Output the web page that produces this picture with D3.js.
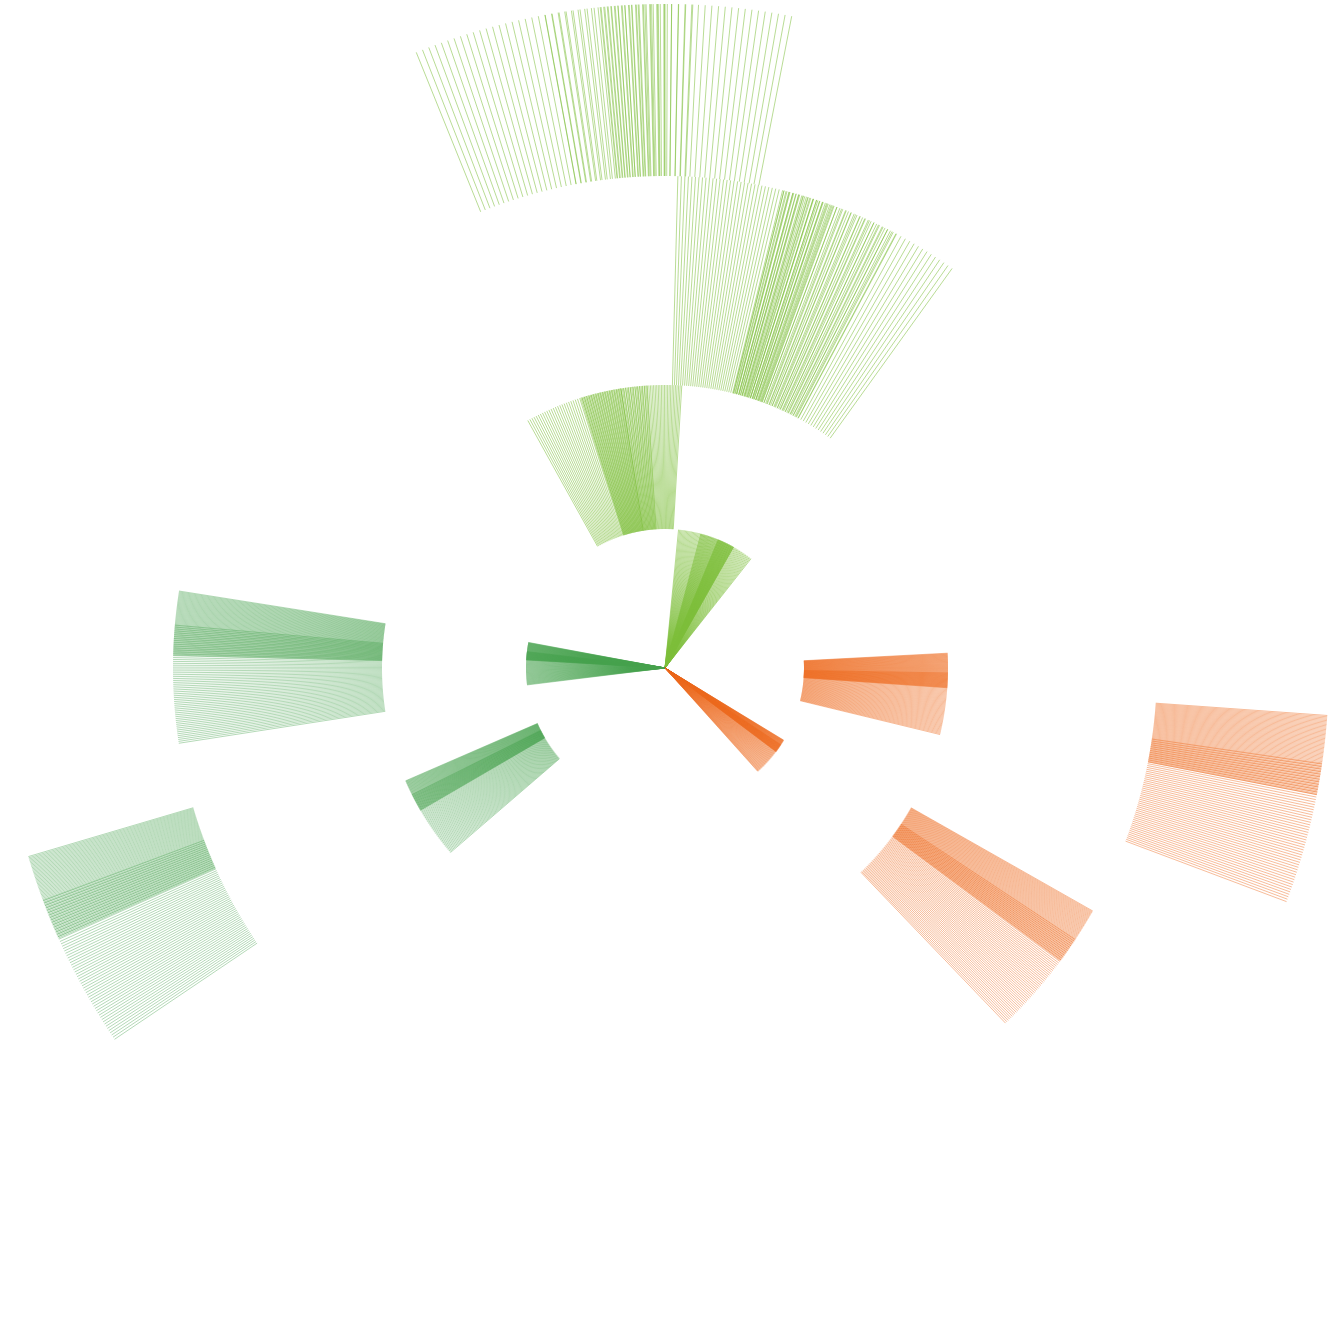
<!DOCTYPE html>
<html>
<head>
<meta charset="utf-8">
<script src="https://d3js.org/d3.v7.min.js"></script>
<style>
  html, body { margin: 0; padding: 0; background: #fff; }
</style>
</head>
<body>
<div id="radial"></div>
<script>
// groups of the chart, each one drawn in its own colour
const groups = ["lime", "green", "orange"]
const groupColors = ["#7cbd3a", "#46a14d", "#ee6b1f"]

// ring levels, 0 is the inner wedge
const levels = [0, 1, 2, 3]

// hatched sets: level, start angle, end angle (degrees), number of lines
const limeSets = [
    [0, 5.6, 29.5, 50], [0, 15, 38.2, 55], [0, 22.5, 29.5, 30],
    [1, -29, -3.7, 54], [1, -17.3, -9, 35], [1, -9, 3.4, 40],
    [2, 1.5, 20, 46], [2, 14, 35.7, 38], [2, 14, 28, 40],
    [3, -22, 11, 58], [3, -10.4, 2.4, 22], [3, -5.6, 0.2, 20]
]
const greenSets = [
    [0, 273.3, 280.6, 66], [0, 263, 276.8, 63],
    [1, 239.8, 246.5, 61], [1, 229.3, 243.4, 64],
    [2, 271.5, 279, 68], [2, 261.2, 275, 63],
    [3, 246, 253.5, 68], [3, 236, 249.5, 61]
]
const orangeSets = [
    [0, 121.3, 127, 52], [0, 123.5, 138.1, 66],
    [1, 87, 94, 64], [1, 91, 103.6, 57],
    [2, 119.6, 126.5, 63], [2, 123.5, 136.2, 58],
    [3, 94.1, 101, 63], [3, 98.3, 110.6, 56]
]
const groupSets = [limeSets, greenSets, orangeSets]

function drawRadial() {
    var width = 1331, height = 1330
    var opacity = [0.6, 0.45, 0.5]

    var svg = d3.select("#radial")
        .append("svg")
        .attr("width", width)
        .attr("height", height)
        .append("g")
        .attr("transform", "translate(665,668)")

    // ring edges, inner wedge starts at the centre
    var r = d3.scaleLinear()
        .domain([0, 1, 2, 3, 4])
        .range([0, 139, 283, 492, 664])

    var angle = d3.scaleLinear()
        .domain([0, 360])
        .range([0, 2 * Math.PI])

    var line = d3.lineRadial()
        .angle(d => angle(d[0]))
        .radius(d => d[1])

    groups.forEach((g, gi) => {
        var layer = svg.append("g").attr("class", "group-" + g)

        groupSets[gi].forEach(([level, a0, a1, n]) => {
            // spread the lines of one set over its angles
            var spread = d3.scaleLinear().domain([0, n - 1]).range([a0, a1])
            var r0 = r(levels[level]), r1 = r(levels[level] + 1)

            layer.append("g")
                .selectAll("path")
                .data(d3.range(n))
                .enter()
                .append("path")
                .attr("d", i => line([[spread(i), r0], [spread(i), r1]]))
                .attr("fill", "none")
                .attr("stroke", groupColors[gi])
                .attr("stroke-width", 0.9)
                .attr("stroke-opacity", opacity[gi])
        })
    })
}

drawRadial()
</script>
</body>
</html>
